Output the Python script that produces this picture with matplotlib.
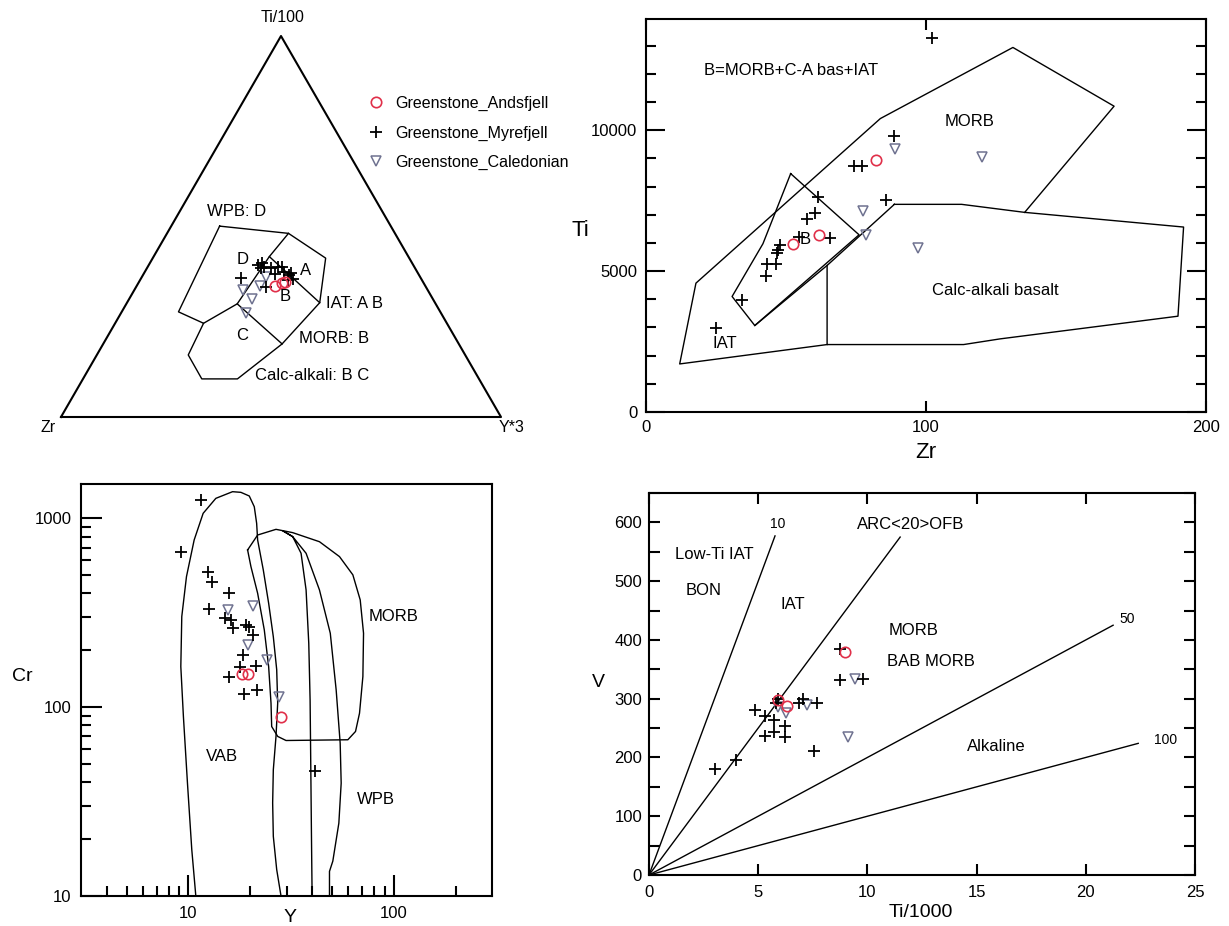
import numpy as np
import matplotlib
matplotlib.use("Agg")
import matplotlib.pyplot as plt
from matplotlib.lines import Line2D
from matplotlib.ticker import FixedLocator, FixedFormatter, NullFormatter

plt.rcParams['font.family'] = ['Liberation Sans', 'DejaVu Sans']

# ---------------- data ----------------
# Ti/100 - Zr - Y*3 ternary (Pearce & Cann 1973), values in percent
tern_outline_ti = [50.1, 48.2, 41.7, 30.0, 19.2, 10.0, 10.0, 16.3, 24.6, 27.6, 50.1]
tern_outline_zr = [38.9, 24.2, 19.0, 26.2, 40.2, 54.9, 63.0, 63.0, 55.3, 59.5, 38.9]
tern_outline_y = [11.0, 27.6, 39.3, 43.8, 40.7, 35.1, 27.0, 20.8, 20.1, 12.9, 11.0]
# inner boundaries
tern_inner = [
    ([48.2, 42.1, 30.0], [24.2, 31.6, 26.2], [27.6, 26.3, 43.8]),
    ([42.1, 29.7, 19.2], [31.6, 45.1, 40.2], [26.3, 25.2, 40.7]),
    ([29.7, 24.6], [45.1, 55.3], [25.2, 20.1]),
]
tern_labels = ["WPB: D", "D", "A", "B", "C", "IAT: A B", "MORB: B", "Calc-alkali: B C"]
tern_label_ti = [53.9, 41.4, 38.4, 31.6, 21.5, 29.8, 20.7, 11.0]
tern_label_zr = [33.2, 38.0, 25.3, 33.3, 48.1, 24.9, 35.5, 50.3]
tern_label_y = [12.9, 20.6, 36.3, 35.1, 30.4, 45.3, 43.8, 38.7]

tern_and_ti = [34.4, 35.1, 35.5]
tern_and_zr = [34.2, 32.2, 31.4]
tern_and_y = [31.4, 32.7, 33.1]
tern_myr_ti = [39.9, 39.0, 39.5, 39.0, 39.3, 37.5, 38.2, 37.3, 36.1, 36.0, 36.4, 34.0, 37.7, 40.3, 39.5]
tern_myr_zr = [35.3, 35.1, 34.1, 32.7, 31.1, 32.6, 30.3, 29.5, 29.2, 30.5, 40.9, 36.4, 28.9, 34.1, 30.0]
tern_myr_y = [24.8, 25.9, 26.5, 28.3, 29.6, 29.9, 31.6, 33.2, 34.7, 33.5, 22.7, 29.6, 33.4, 25.6, 30.5]
tern_cal_ti = [33.3, 31.0, 27.2, 34.4, 36.8]
tern_cal_zr = [42.0, 41.1, 44.4, 37.6, 35.0]
tern_cal_y = [24.7, 27.9, 28.4, 28.0, 28.2]

# Ti vs Zr (ppm)
tz_outer_zr = [64.8, 12.2, 18.0, 83.8, 131.1, 167.2, 135.3]
tz_outer_ti = [2394, 1706, 4574, 10416, 12940, 10855, 7086]
tz_cab_zr = [88.8, 112.8, 135.3, 192.0, 190.0, 126.5, 113.5, 64.8, 64.8, 88.8]
tz_cab_ti = [7371, 7371, 7086, 6565, 3401, 2595, 2394, 2394, 5202, 7371]
tz_b_zr = [51.8, 76.2, 39.0, 30.9, 41.9, 51.8]
tz_b_ti = [8461, 6290, 3069, 4100, 5972, 8461]
tz_labels = ["B=MORB+C-A bas+IAT", "MORB", "Calc-alkali basalt", "IAT", "B"]
tz_label_zr = [51.8, 115.8, 125.0, 28.2, 57.1]
tz_label_ti = [12134, 10300, 4313, 2417, 6115]

tz_and_zr = [82.3, 62.0, 52.6]
tz_and_ti = [8935, 6269, 5972]
tz_myr_zr = [102.1, 88.7, 74.4, 77.3, 85.8, 61.4, 60.5, 57.6, 65.8, 54.9, 48.0, 47.2,
             46.8, 43.4, 46.5, 43.0, 34.3, 25.1]
tz_myr_ti = [13260, 9788, 8733, 8733, 7537, 7631, 7063, 6861, 6162, 6209, 5937, 5759,
             5641, 5261, 5261, 4811, 3993, 2986]
tz_cal_zr = [89.2, 120.1, 77.7, 78.8, 97.2]
tz_cal_ti = [9326, 9053, 7134, 6269, 5830]

# Cr vs Y (ppm, log-log)
cy_vab_y = [10.86, 10.38, 9.89, 9.45, 9.18, 9.28, 9.78, 10.66, 11.79, 13.59, 16.39, 18.0,
            19.77, 20.91, 21.47, 21.71, 23.13, 24.56, 25.88, 26.88, 27.18, 26.67, 25.88,
            25.69, 25.88, 26.88, 28.21]
cy_vab_cr = [10, 17.6, 39.6, 89.3, 164, 302, 491, 768, 1063, 1276, 1384, 1373, 1313, 1152,
             941, 768, 533, 355, 236, 158, 105, 70, 46.6, 31.1, 20.7, 13.8, 10]
cy_morb_y = [19.40, 21.71, 26.67, 32.15, 43.40, 54.33, 63.10, 68.52, 71.12, 70.60, 67.99,
             65.01, 59.66, 29.84, 27.18, 25.41, 25.22, 24.56, 23.39, 21.71, 20.14, 19.40]
cy_morb_cr = [680, 816, 874.5, 840, 752, 627, 502, 369.8, 246.3, 145.3, 92.9, 74.35, 67.2,
              66.6, 70.0, 79.0, 105, 164, 256.6, 401, 555, 680]
cy_wpb_y = [39.97, 39.67, 39.38, 39.08, 38.50, 37.36, 35.32, 32.15, 28.74, 32.15, 37.36,
            43.40, 49.0, 52.33, 54.74, 55.36, 53.93, 50.41, 48.56, 48.56]
cy_wpb_cr = [10, 21.5, 48.5, 109.3, 218, 417.7, 653, 800, 860, 800, 653, 417.7, 246.3,
             123.5, 64.5, 39.6, 24.3, 15.3, 13.5, 10]
cy_labels = ["MORB", "VAB", "WPB"]
cy_label_y = [100.0, 14.6, 81.5]
cy_label_cr = [302, 54.8, 32.4]

cy_and_y = [18.3, 19.4, 28.2]
cy_and_cr = [150, 150, 89]
cy_myr_y = [11.5, 9.18, 12.5, 12.95, 15.8, 12.6, 15.1, 16.1, 16.4, 19.1, 19.8, 20.5, 18.5,
            17.8, 21.3, 15.8, 18.7, 21.5, 41.5]
cy_myr_cr = [1250, 667, 517, 462, 404, 330, 298, 288, 262, 273, 267, 241, 189, 164, 165,
             144, 117, 124, 46]
cy_cal_y = [15.6, 20.7, 19.4, 24.0, 27.5]
cy_cal_cr = [327, 343, 214, 178, 113]

# V vs Ti/1000 (Shervais 1982): Ti/V ratio lines
tv_ratios = [10, 20, 50, 100]
tv_line_end = [5.77, 11.5, 21.25, 22.4]
tv_labels = ["10", "ARC<20>OFB", "50", "100", "Low-Ti IAT", "BON", "IAT", "MORB",
             "BAB MORB", "Alkaline"]
tv_label_x = [5.9, 12.0, 21.9, 23.65, 3.0, 2.5, 6.6, 12.1, 12.9, 15.9]
tv_label_v = [597, 597, 436, 229, 546, 484, 460, 416, 364, 218]

tv_and_ti = [8.99, 5.9, 6.33]
tv_and_v = [380, 297, 287]
tv_myr_ti = [8.74, 8.74, 9.81, 4.87, 5.32, 5.71, 5.71, 5.32, 6.24, 6.24, 5.90, 5.8, 7.04,
             6.88, 7.70, 7.56, 4.0, 3.03]
tv_myr_v = [384, 331, 334, 280, 271, 263, 244, 236, 253, 234, 300, 292, 300, 293, 293,
            211, 195, 181]
tv_cal_ti = [9.42, 7.23, 6.29, 5.9, 9.13]
tv_cal_v = [334, 289, 275, 286, 235]

series_names = ["Greenstone_Andsfjell", "Greenstone_Myrefjell", "Greenstone_Caledonian"]

# ---------------- styles ----------------
RED = '#e0304a'
TRI = '#6f7290'
st_and = dict(marker='o', mfc='none', mec=RED, ms=7.5, mew=1.2, ls='none')
st_myr = dict(marker='+', color='k', ms=8.5, mew=1.3, ls='none')
st_cal = dict(marker='v', mfc='none', mec=TRI, ms=7.5, mew=1.1, ls='none')
LW = 1.0
FS = 12

W, H = 1229, 926
fig = plt.figure(figsize=(W / 100, H / 100), dpi=100)


def axes_px(left, top, right, bottom):
    return fig.add_axes([left / W, 1 - bottom / H, (right - left) / W, (bottom - top) / H])


def tern(ti, zr, y):
    ti, zr, y = np.asarray(ti, float), np.asarray(zr, float), np.asarray(y, float)
    s = ti + zr + y
    return (y + ti / 2) / s, ti / s * np.sqrt(3) / 2


# ---------------- panel 1: ternary ----------------
ax1 = axes_px(61, 36, 501, 417)
ax1.set_xlim(0, 1)
ax1.set_ylim(0, np.sqrt(3) / 2)
ax1.axis('off')
ax1.plot([0, 1, 0.5, 0], [0, 0, np.sqrt(3) / 2, 0], color='k', lw=1.5, clip_on=False)
ax1.plot(*tern(tern_outline_ti, tern_outline_zr, tern_outline_y), color='k', lw=LW)
for ti, zr, y in tern_inner:
    ax1.plot(*tern(ti, zr, y), color='k', lw=LW)
lx, ly = tern(tern_label_ti, tern_label_zr, tern_label_y)
for i, txt in enumerate(tern_labels):
    ha = 'left' if i >= 5 else 'center'
    ax1.text(lx[i], ly[i], txt, ha=ha, va='center', fontsize=FS)
ax1.plot(*tern(tern_cal_ti, tern_cal_zr, tern_cal_y), **st_cal)
ax1.plot(*tern(tern_myr_ti, tern_myr_zr, tern_myr_y), **st_myr)
ax1.plot(*tern(tern_and_ti, tern_and_zr, tern_and_y), **st_and)
ax1.text(0.5045, 0.909, "Ti/100", ha='center', va='center', fontsize=11.5)
ax1.text(-0.03, -0.025, "Zr", ha='center', va='center', fontsize=11.5)
ax1.text(1.023, -0.023, "Y*3", ha='center', va='center', fontsize=11.5)

handles = [Line2D([], [], **st_and), Line2D([], [], **st_myr), Line2D([], [], **st_cal)]
fig.legend(handles, series_names, loc='upper left', bbox_to_anchor=(368 / W, 1 - 96 / H),
           frameon=False, fontsize=11.5, handlelength=1.0, handletextpad=0.7,
           labelspacing=0.9, borderpad=0, borderaxespad=0)

# ---------------- panel 2: Ti vs Zr ----------------
ax2 = axes_px(645.5, 19, 1206, 412)
ax2.plot(tz_outer_zr, tz_outer_ti, color='k', lw=LW)
ax2.plot(tz_cab_zr, tz_cab_ti, color='k', lw=LW)
ax2.plot([64.8, 39.0], [5202, 3069], color='k', lw=LW)
ax2.plot(tz_b_zr, tz_b_ti, color='k', lw=LW)
for txt, x, y in zip(tz_labels, tz_label_zr, tz_label_ti):
    ax2.text(x, y, txt, ha='center', va='center', fontsize=FS)
ax2.plot(tz_cal_zr, tz_cal_ti, **st_cal)
ax2.plot(tz_myr_zr, tz_myr_ti, **st_myr)
ax2.plot(tz_and_zr, tz_and_ti, **st_and)
ax2.set_xlim(0, 200)
ax2.set_ylim(0, 13950)
ax2.set_xticks([0, 100, 200])
ax2.set_yticks([0, 5000, 10000])
ax2.yaxis.set_minor_locator(FixedLocator(range(1000, 14000, 1000)))
ax2.tick_params(which='both', direction='in', top=True, right=True, labelsize=FS, pad=6,
                width=1.5)
ax2.tick_params(axis='y', which='major', length=14)
ax2.tick_params(axis='x', which='major', length=8)
ax2.tick_params(which='minor', length=7)
for s in ax2.spines.values():
    s.set_linewidth(1.5)
ax2.text(-0.117, 0.463, "Ti", transform=ax2.transAxes, ha='center', va='center', fontsize=16)
ax2.text(0.5, -0.102, "Zr", transform=ax2.transAxes, ha='center', va='center', fontsize=16)

# ---------------- panel 3: Cr vs Y ----------------
ax3 = axes_px(81, 484, 492, 896)
ax3.set_xscale('log')
ax3.set_yscale('log')
ax3.plot(cy_vab_y, cy_vab_cr, color='k', lw=LW)
ax3.plot(cy_morb_y, cy_morb_cr, color='k', lw=LW)
ax3.plot(cy_wpb_y, cy_wpb_cr, color='k', lw=LW)
for txt, x, y in zip(cy_labels, cy_label_y, cy_label_cr):
    ax3.text(x, y, txt, ha='center', va='center', fontsize=FS)
ax3.plot(cy_cal_y, cy_cal_cr, **st_cal)
ax3.plot(cy_myr_y, cy_myr_cr, **st_myr)
ax3.plot(cy_and_y, cy_and_cr, **st_and)
ax3.set_xlim(3, 300)
ax3.set_ylim(10, 1520)
ax3.xaxis.set_major_locator(FixedLocator([10, 100]))
ax3.xaxis.set_major_formatter(FixedFormatter(["10", "100"]))
ax3.xaxis.set_minor_locator(FixedLocator([4, 5, 6, 7, 8, 9, 20, 30, 40, 50, 60, 70, 80, 90, 200]))
ax3.yaxis.set_major_locator(FixedLocator([10, 100, 1000]))
ax3.yaxis.set_major_formatter(FixedFormatter(["10", "100", "1000"]))
ax3.yaxis.set_minor_locator(FixedLocator([20, 30, 40, 50, 60, 70, 80, 90,
                                          200, 300, 400, 500, 600, 700, 800, 900]))
ax3.xaxis.set_minor_formatter(NullFormatter())
ax3.yaxis.set_minor_formatter(NullFormatter())
ax3.tick_params(which='both', direction='in', labelsize=FS, width=1.5)
ax3.tick_params(which='major', length=15, pad=7)
ax3.tick_params(which='minor', length=7)
for s in ax3.spines.values():
    s.set_linewidth(1.5)
ax3.text(-0.1436, 0.532, "Cr", transform=ax3.transAxes, ha='center', va='center', fontsize=14)
ax3.text(0.5085, -0.053, "Y", transform=ax3.transAxes, ha='center', va='center', fontsize=14)

# ---------------- panel 4: V vs Ti/1000 ----------------
ax4 = axes_px(649, 493, 1195, 875)
for r, xe in zip(tv_ratios, tv_line_end):
    ax4.plot([0, xe], [0, xe * 1000 / r], color='k', lw=LW)
for txt, x, y in zip(tv_labels, tv_label_x, tv_label_v):
    fs = 10 if txt in ("10", "50", "100") else FS
    ax4.text(x, y, txt, ha='center', va='center', fontsize=fs)
ax4.plot(tv_cal_ti, tv_cal_v, **st_cal)
ax4.plot(tv_myr_ti, tv_myr_v, **st_myr)
ax4.plot(tv_and_ti, tv_and_v, **st_and)
ax4.set_xlim(0, 25)
ax4.set_ylim(0, 650)
ax4.set_xticks(range(0, 26, 5))
ax4.set_yticks(range(0, 601, 100))
ax4.yaxis.set_minor_locator(FixedLocator(range(50, 651, 100)))
ax4.tick_params(which='both', direction='in', top=True, right=True, labelsize=FS, width=1.5,
                length=8)
ax4.tick_params(axis='x', pad=7)
ax4.tick_params(axis='y', pad=5)
for s in ax4.spines.values():
    s.set_linewidth(1.5)
ax4.text(-0.0925, 0.503, "V", transform=ax4.transAxes, ha='center', va='center', fontsize=14)
ax4.text(0.498, -0.097, "Ti/1000", transform=ax4.transAxes, ha='center', va='center',
         fontsize=14)

fig.savefig("out.png", dpi=100)
